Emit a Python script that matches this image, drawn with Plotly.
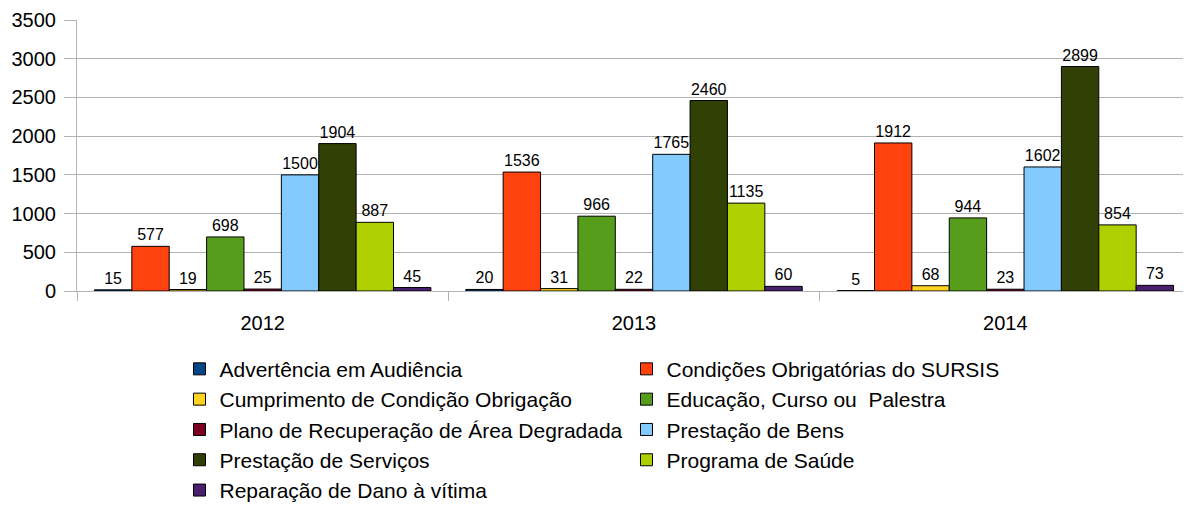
import plotly.graph_objects as go

years = ["2012", "2013", "2014"]
series_names = [
    "Advertência em Audiência",
    "Condições Obrigatórias do SURSIS",
    "Cumprimento de Condição Obrigação",
    "Educação, Curso ou  Palestra",
    "Plano de Recuperação de Área Degradada",
    "Prestação de Bens",
    "Prestação de Serviços",
    "Programa de Saúde",
    "Reparação de Dano à vítima",
]
advertencia = [15, 20, 5]
condicoes = [577, 1536, 1912]
cumprimento = [19, 31, 68]
educacao = [698, 966, 944]
plano = [25, 22, 23]
bens = [1500, 1765, 1602]
servicos = [1904, 2460, 2899]
saude = [887, 1135, 854]
reparacao = [45, 60, 73]
series_values = [advertencia, condicoes, cumprimento, educacao, plano, bens, servicos, saude, reparacao]
colors = ["#004586", "#ff420e", "#ffd320", "#579d1c", "#7e0021", "#83caff", "#314004", "#aecf00", "#4b1f6f"]

FONT = "Liberation Sans, Arial, sans-serif"

fig = go.Figure()
for name, vals, col in zip(series_names, series_values, colors):
    fig.add_trace(go.Bar(
        x=years, y=vals, name=name,
        marker=dict(color=col, line=dict(color="#000000", width=1)),
        text=[str(v) for v in vals], textposition="outside",
        textfont=dict(family=FONT, size=16, color="#000000"),
        cliponaxis=False,
    ))

fig.update_layout(
    width=1191, height=507,
    margin=dict(l=69, r=8, t=12, b=224),
    paper_bgcolor="white", plot_bgcolor="white",
    barmode="group", bargap=0.094, bargroupgap=0,
    font=dict(family=FONT, size=20, color="#000000"),
    showlegend=True,
    legend=dict(
        orientation="h", x=0.092, xanchor="left",
        yref="container", y=0.328, yanchor="top",
        entrywidth=402, entrywidthmode="pixels", itemwidth=30,
        font=dict(family=FONT, size=21, color="#000000"),
        traceorder="normal",
    ),
    xaxis=dict(
        automargin=False,
        showline=True, linecolor="#b3b3b3", linewidth=1,
        tickson="boundaries", ticks="outside", ticklen=9, tickcolor="#b3b3b3",
        tickfont=dict(family=FONT, size=20, color="#000000"),
        ticklabelstandoff=14,
        showgrid=False,
    ),
    yaxis=dict(
        automargin=False,
        range=[0, 3500], dtick=500,
        showgrid=True, gridcolor="#b3b3b3", gridwidth=1,
        showline=True, linecolor="#b3b3b3", linewidth=1,
        ticks="outside", ticklen=12, tickcolor="#b3b3b3",
        tickfont=dict(family=FONT, size=20, color="#000000"),
        ticklabelstandoff=4,
        zeroline=False,
    ),
)

fig.write_html("out.html")
